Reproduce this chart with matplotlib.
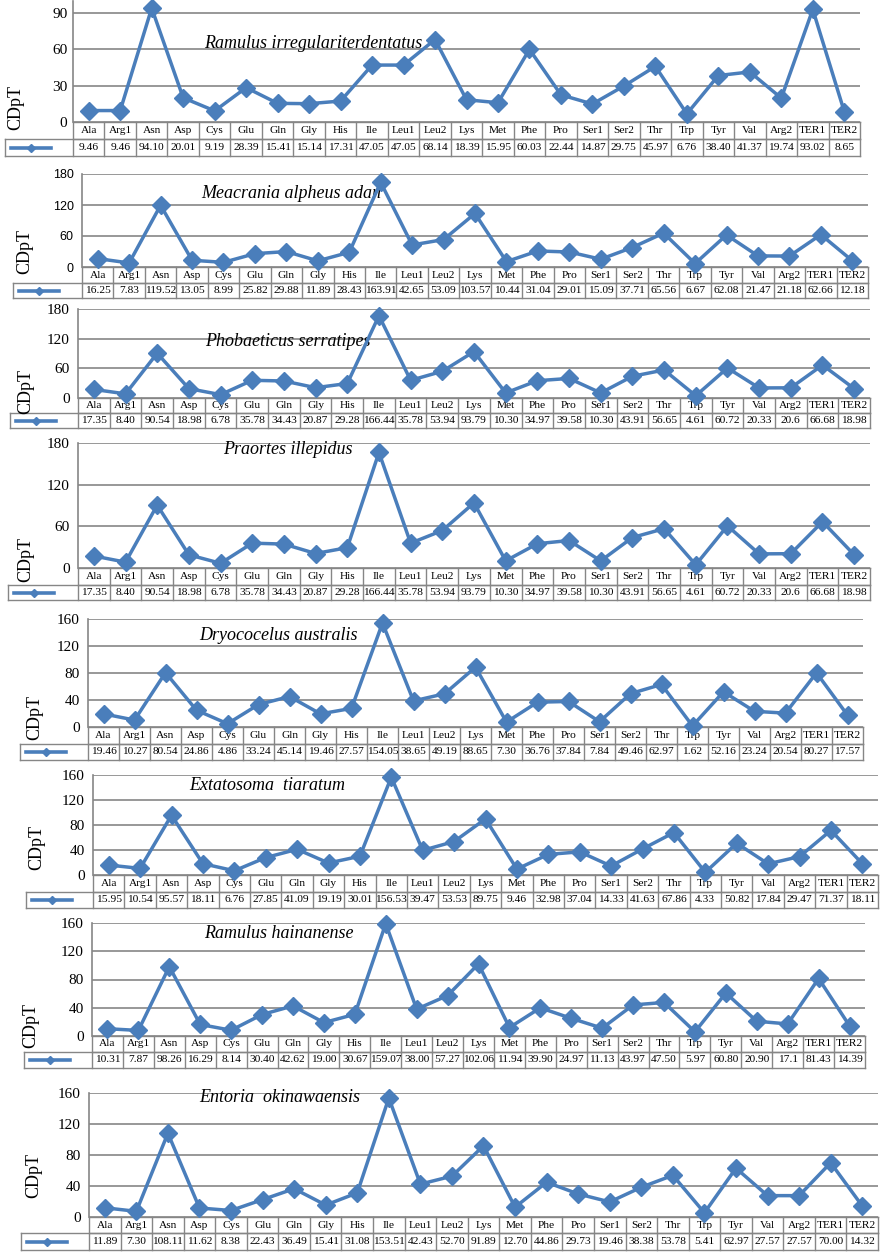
import numpy as np
import matplotlib
matplotlib.use("Agg")
import matplotlib.pyplot as plt
import matplotlib.transforms as mtransforms
from matplotlib.lines import Line2D

W, H = 886, 1256

amino = ["Ala", "Arg1", "Asn", "Asp", "Cys", "Glu", "Gln", "Gly", "His", "Ile",
         "Leu1", "Leu2", "Lys", "Met", "Phe", "Pro", "Ser1", "Ser2", "Thr", "Trp",
         "Tyr", "Val", "Arg2", "TER1", "TER2"]

species = ["Ramulus irregulariterdentatus", "Meacrania alpheus adan",
           "Phobaeticus serratipes", "Praortes illepidus", "Dryococelus australis",
           "Extatosoma  tiaratum", "Ramulus hainanense", "Entoria  okinawaensis"]

# CDpT values as printed in the data tables
r_irregulariterdentatus = ("9.46 9.46 94.10 20.01 9.19 28.39 15.41 15.14 17.31 47.05 47.05 68.14 "
                           "18.39 15.95 60.03 22.44 14.87 29.75 45.97 6.76 38.40 41.37 19.74 93.02 8.65").split()
m_alpheus_adan = ("16.25 7.83 119.52 13.05 8.99 25.82 29.88 11.89 28.43 163.91 42.65 53.09 "
                  "103.57 10.44 31.04 29.01 15.09 37.71 65.56 6.67 62.08 21.47 21.18 62.66 12.18").split()
p_serratipes = ("17.35 8.40 90.54 18.98 6.78 35.78 34.43 20.87 29.28 166.44 35.78 53.94 "
                "93.79 10.30 34.97 39.58 10.30 43.91 56.65 4.61 60.72 20.33 20.6 66.68 18.98").split()
p_illepidus = ("17.35 8.40 90.54 18.98 6.78 35.78 34.43 20.87 29.28 166.44 35.78 53.94 "
               "93.79 10.30 34.97 39.58 10.30 43.91 56.65 4.61 60.72 20.33 20.6 66.68 18.98").split()
d_australis = ("19.46 10.27 80.54 24.86 4.86 33.24 45.14 19.46 27.57 154.05 38.65 49.19 "
               "88.65 7.30 36.76 37.84 7.84 49.46 62.97 1.62 52.16 23.24 20.54 80.27 17.57").split()
e_tiaratum = ("15.95 10.54 95.57 18.11 6.76 27.85 41.09 19.19 30.01 156.53 39.47 53.53 "
              "89.75 9.46 32.98 37.04 14.33 41.63 67.86 4.33 50.82 17.84 29.47 71.37 18.11").split()
r_hainanense = ("10.31 7.87 98.26 16.29 8.14 30.40 42.62 19.00 30.67 159.07 38.00 57.27 "
                "102.06 11.94 39.90 24.97 11.13 43.97 47.50 5.97 60.80 20.90 17.1 81.43 14.39").split()
e_okinawaensis = ("11.89 7.30 108.11 11.62 8.38 22.43 36.49 15.41 31.08 153.51 42.43 52.70 "
                  "91.89 12.70 44.86 29.73 19.46 38.38 53.78 5.41 62.97 27.57 27.57 70.00 14.32").split()

all_values = [r_irregulariterdentatus, m_alpheus_adan, p_serratipes, p_illepidus,
              d_australis, e_tiaratum, r_hainanense, e_okinawaensis]

# layout in pixels: top, zero line, left, right, key cell left, y max, tick step,
# header row h, value row h, tick font, title centre, ylabel centre
layouts = [
    (1, 122, 73, 860, 5, 100, 30, 17, 17, "serif", (313, 43), (16, 108)),
    (174, 267, 82, 868, 13, 180, 60, 16, 15, "sans", (291, 193), (25, 251)),
    (309, 398, 78, 870, 10, 180, 60, 15, 15, "serif", (288, 342), (26, 392)),
    (443, 568, 78, 870, 8, 180, 60, 17, 15, "serif", (288, 450), (26, 559)),
    (619, 727, 88, 863, 20, 160, 40, 17, 16, "serif", (278, 635), (35, 717)),
    (775, 875, 93, 878, 26, 160, 40, 17, 16, "serif", (267, 786), (37, 847)),
    (923, 1036, 92, 865, 24, 160, 40, 16, 16, "serif", (279, 933), (31, 1026)),
    (1093, 1217, 89, 878, 21, 160, 40, 16, 17, "serif", (280, 1097), (34, 1176)),
]

blue = "#4a7ebb"
gridc = "#868686"
serif = "Liberation Serif"

fig = plt.figure(figsize=(W / 100, H / 100), dpi=100)

n = len(amino)
x = np.arange(n) + 0.5

for name, vals, lay in zip(species, all_values, layouts):
    top, zero, left, right, kleft, ymax, step, r1, r2, tfont, (tx, ty), (lx, ly) = lay
    ax = fig.add_axes([left / W, 1 - zero / H, (right - left) / W, (zero - top) / H])
    ax.set_xlim(0, n)
    ax.set_ylim(0, ymax)
    ax.set_autoscale_on(False)
    y = [float(v) for v in vals]

    ax.plot(x, y, color=blue, lw=2.5, marker="D", ms=9, zorder=4, clip_on=False)

    ax.set_yticks(np.arange(0, ymax + 0.1, step))
    ax.set_xticks([])
    ax.yaxis.grid(True, color=gridc, lw=1.2)
    ax.set_axisbelow(True)
    for s in ["top", "right", "bottom"]:
        ax.spines[s].set_visible(False)
    ax.spines["left"].set_color(gridc)
    ax.spines["left"].set_linewidth(1.2)
    if tfont == "sans":
        ax.tick_params(axis="y", length=0, pad=6, labelsize=9)
        for lab in ax.get_yticklabels():
            lab.set_family("Liberation Sans")
    else:
        ax.tick_params(axis="y", length=0, pad=4 if ymax == 100 else 6, labelsize=11)
        for lab in ax.get_yticklabels():
            lab.set_family(serif)

    # data table under the plot
    ah = zero - top
    y0, y1, y2 = 0, -r1 / ah, -(r1 + r2) / ah
    kx = (kleft - left) / (right - left)
    trans = mtransforms.blended_transform_factory(ax.transData, ax.transAxes)
    lkw = dict(color=gridc, lw=1.0, clip_on=False, zorder=2)
    ax.add_line(Line2D([0, n], [y0, y0], transform=trans, **lkw))
    ax.add_line(Line2D([0, n], [y1, y1], transform=trans, **lkw))
    ax.add_line(Line2D([kx, 1], [y1, y1], transform=ax.transAxes, **lkw))
    ax.add_line(Line2D([kx, 1], [y2, y2], transform=ax.transAxes, **lkw))
    ax.add_line(Line2D([kx, kx], [y1, y2], transform=ax.transAxes, **lkw))
    for i in range(n + 1):
        ax.add_line(Line2D([i, i], [y0, y2], transform=trans, **lkw))
    for i in range(n):
        ax.text(i + 0.5, (y0 + y1) / 2, amino[i], transform=trans, ha="center",
                va="center", fontsize=8.2, family=serif, clip_on=False)
        ax.text(i + 0.5, (y1 + y2) / 2, vals[i], transform=trans, ha="center",
                va="center", fontsize=8.2, family=serif, clip_on=False)

    # legend key in the first cell of the value row
    k0 = (kleft + 6 - left) / (right - left)
    k1 = (kleft + 46 - left) / (right - left)
    ym = (y1 + y2) / 2
    ax.add_line(Line2D([k0, k1], [ym, ym], transform=ax.transAxes, color=blue,
                       lw=2.6, clip_on=False, zorder=3))
    ax.add_line(Line2D([(k0 + k1) / 2], [ym], transform=ax.transAxes, color=blue,
                       marker="D", ms=4, lw=0, clip_on=False, zorder=3))

    ax.text(tx / W, 1 - ty / H, name, transform=fig.transFigure, ha="center",
            va="center", style="italic", family=serif, fontsize=13, zorder=1)
    fig.text(lx / W, 1 - ly / H, "CDpT", rotation=90, ha="center", va="center",
             family=serif, fontsize=13)

fig.savefig("out.png", dpi=100)
